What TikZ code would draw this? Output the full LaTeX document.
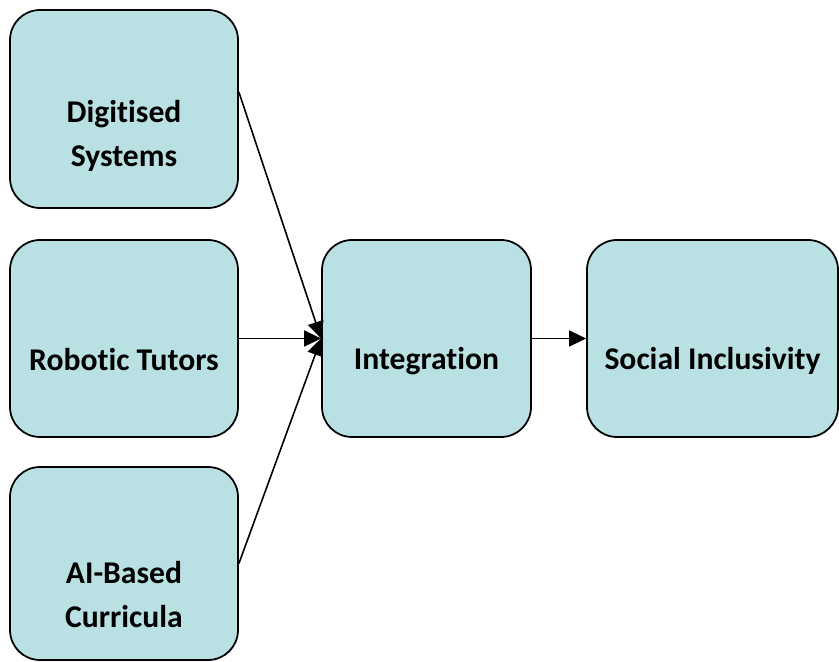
\documentclass[tikz,border=0pt]{standalone}
\usepackage{fontspec}
\setmainfont{Carlito}[Ligatures=NoCommon]
\usetikzlibrary{arrows.meta}

\definecolor{boxfill}{RGB}{185,224,227}

\tikzstyle{box} = [draw, line width=1pt, fill=boxfill, rounded corners=0.6cm]
\tikzstyle{srcbox} = [box, minimum width=4.56cm, minimum height=3.94cm]
\tikzstyle{lbl} = [align=center, font=\fontsize{18}{25}\selectfont\bfseries]
\tikzstyle{link} = [line width=0.9pt, -{Triangle[length=0.34cm,width=0.32cm]}]

\begin{document}
\begin{tikzpicture}
	\useasboundingbox (0,0) rectangle (16.78,13.22);

	% three sources on the left
	\node[srcbox, minimum height=3.96cm] (dig) at (2.48,11.04) {};
	\node[lbl] (digtext) at ([yshift=-0.54cm]dig.center) {Digitised\\Systems};

	\node[srcbox] (rob) at (2.48,6.45) {};
	\node[lbl] (robtext) at ([yshift=-0.42cm]rob.center) {Robotic Tutors};

	\node[srcbox, minimum height=3.86cm] (ai) at (2.48,1.95) {};
	\node[lbl] (aitext) at ([yshift=-0.62cm]ai.center) {AI-Based\\Curricula};

	% middle and result
	\node[box, minimum width=4.18cm, minimum height=3.94cm] (int) at (8.53,6.45) {};
	\node[lbl] (inttext) at ([yshift=-0.46cm]int.center) {Integration};

	\node[box, minimum width=5.02cm, minimum height=3.94cm] (soc) at (14.25,6.45) {};
	\node[lbl] (soctext) at ([yshift=-0.44cm]soc.center) {Social Inclusivity};

	\draw[link] ([yshift=0.34cm]dig.east) -- (int.west);
	\draw[link] (rob.east) -- (int.west);
	\draw[link] (ai.east) -- (int.west);
	\draw[link] (int.east) -- (soc.west);
\end{tikzpicture}
\end{document}
